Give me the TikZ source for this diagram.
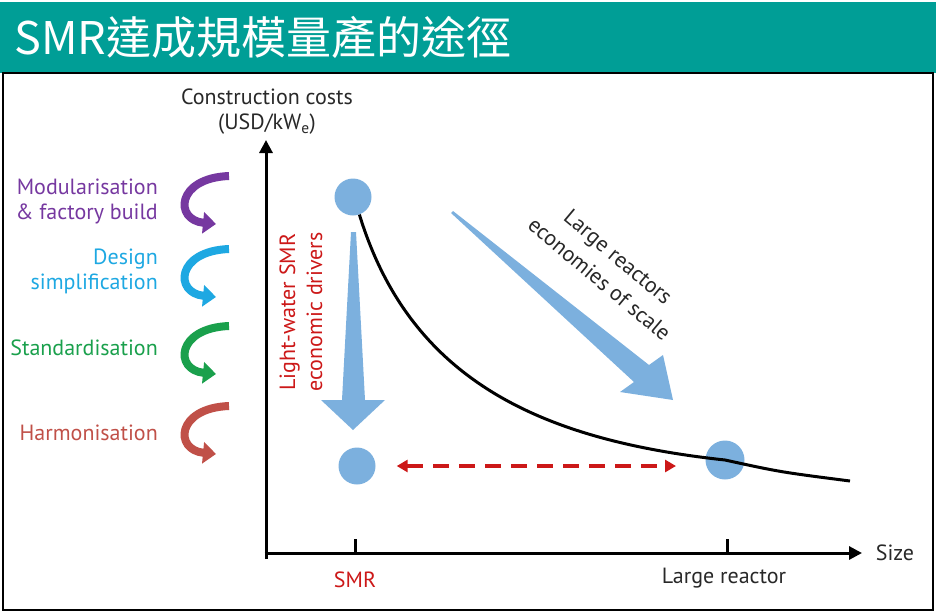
\documentclass[tikz,border=0pt]{standalone}
\usepackage{fontspec}
\setmainfont{PT Sans}
\newfontfamily\cjkfont{Noto Sans CJK TC}
\usetikzlibrary{arrows.meta}
\definecolor{titlebg}{RGB}{0,158,150}
\definecolor{dotblue}{RGB}{124,176,222}
\definecolor{dashred}{RGB}{204,24,24}
\definecolor{modpurple}{RGB}{118,56,160}
\definecolor{desblue}{RGB}{30,168,226}
\definecolor{stdgreen}{RGB}{26,160,76}
\definecolor{harred}{RGB}{192,80,72}
\definecolor{labgray}{RGB}{40,40,40}
\newcommand{\lab}[2]{\fontsize{#1}{#2}\selectfont}

\begin{document}
\begin{tikzpicture}[
    x=1pt, y=-1pt,
    every node/.style={
        inner sep=0pt,
        align=center,
        font=\lab{22}{25}
      },
    dot/.style={circle, fill=dotblue, minimum size=37pt},
    axis/.style={line width=3pt, -{Triangle[length=13pt,width=13pt]}},
    tick/.style={line width=3pt},
    cost/.style={line width=3pt},
    span/.style={line width=3.5pt, dashred, dash pattern=on 16pt off 10pt,
        {Triangle[length=11pt,width=12pt]}-{Triangle[length=11pt,width=12pt]}},
    turn/.style={line width=8pt, -{Triangle[length=13pt,width=21pt]}},
    driver/.style={anchor=east, align=right}
    ]
    \useasboundingbox (0,0) rectangle (936,613);

    % ============= TITRE ==================
    \fill[titlebg] (0,2) rectangle (936,73);
    \node[anchor=west, text=white, font=\cjkfont\lab{45}{50}] (T) at (14,37) {SMR達成規模量產的途徑};
    \draw[line width=2pt] (3,73) rectangle (933,610);

    % ============= AXES ==================
    \coordinate (O) at (266,553);
    \coordinate (YE) at (266,140);
    \coordinate (XE) at (862,553);
    \draw[axis] (O) ++(0,6) -- (YE);
    \draw[axis] (O) ++(-1.5,0) -- (XE);

    \node[text=labgray] (YL) at (267,112) {Construction costs\\(USD/kW\textsubscript{e})};
    \node[text=labgray] (XL) at (895,553) {Size};

    % -------------------------------
    \coordinate (TS) at (355,553);
    \coordinate (TL) at (727,553);
    \draw[tick] (TS) -- ++(0,-14);
    \draw[tick] (TL) -- ++(0,-14);
    \node[text=dashred] (SMR) at (355,580) {SMR};
    \node[text=labgray] (LRL) at (724,578) {Large reactor};

    % ============= POINTS ==================
    \node[dot] (SH) at (353,197) {};
    \node[dot] (SL) at (357,466) {};
    \node[dot, minimum size=39pt] (LR) at (725,460) {};

    % -------------------------------
    \draw[cost] (SH.-70) .. controls (410,380) and (540,440) .. (LR.center)
        .. controls (780,472) .. (850,481);

    % ============= FLECHES ==================
    \fill[dotblue] (351,232) -- (356,232) -- (365,400) -- (385,400) -- (353,430)
        -- (321,400) -- (342,400) -- cycle;
    \fill[dotblue] (451,213) -- (453,211) -- (649,365) -- (663,355) -- (673,400)
        -- (620,392) -- (634,382) -- cycle;

    \draw[span, shorten <=21pt, shorten >=49pt] (SL) -- (SL -| LR);

    \node[text=dashred, rotate=90, font=\lab{22}{27}] (LW) at (301,312) {Light-water SMR\\economic drivers};
    \node[text=labgray, rotate=-40, font=\lab{22}{29}] (ES) at (609,268) {Large reactors\\economies of scale};

    % ============= LEVIERS (GAUCHE) ==================
    \node[driver, text=modpurple] (MF) at (158,201) {Modularisation\\\& factory build};
    \node[driver, text=desblue] (DS) at (158,271) {Design\\simplification};
    \node[driver, text=stdgreen] (SD) at (158,348) {Standardisation};
    \node[driver, text=harred] (HM) at (158,433) {Harmonisation};

    \foreach \c/\y in {modpurple/172, desblue/245, stdgreen/322, harred/402} {
      \draw[turn, \c] (229,\y+4) .. controls (176,\y+6) and (174,\y+48) .. (216,\y+52);
    }

  \end{tikzpicture}
\end{document}
